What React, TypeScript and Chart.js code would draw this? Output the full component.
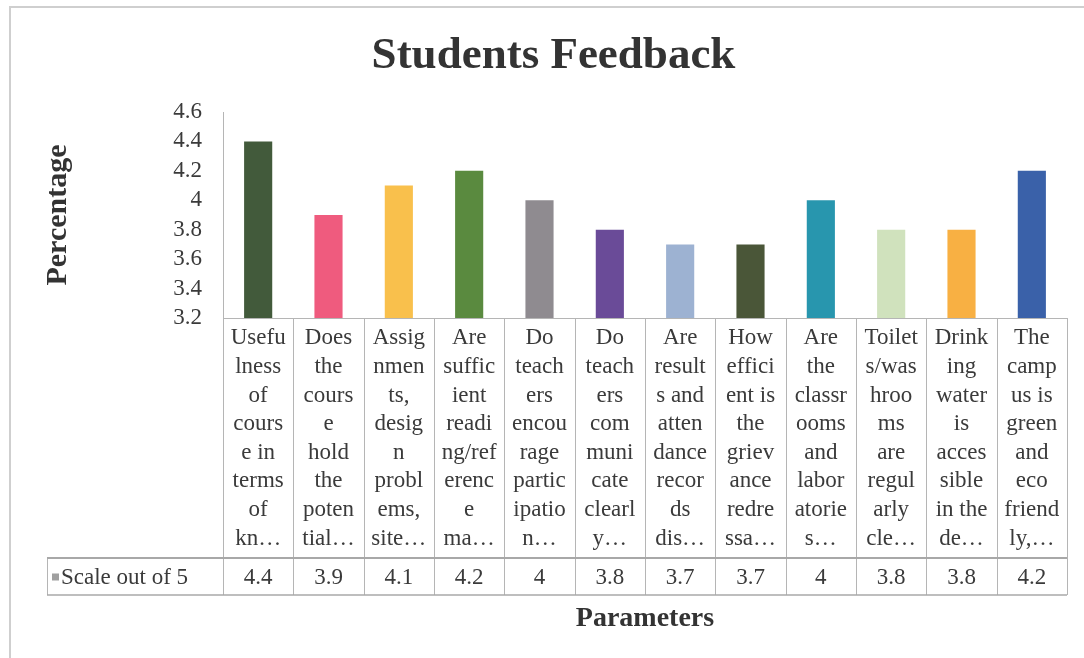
import React, { useEffect, useRef } from "react";
import { Chart, registerables } from "chart.js";

Chart.register(...registerables);

// ---- data ----
const chartTitle = "Students Feedback";
const yAxisTitle = "Percentage";
const xAxisTitle = "Parameters";
const seriesName = "Scale out of 5";

const categoryLines: string[][] = [
  ["Usefu", "lness", "of", "cours", "e in", "terms", "of", "kn…"],
  ["Does", "the", "cours", "e", "hold", "the", "poten", "tial…"],
  ["Assig", "nmen", "ts,", "desig", "n", "probl", "ems,", "site…"],
  ["Are", "suffic", "ient", "readi", "ng/ref", "erenc", "e", "ma…"],
  ["Do", "teach", "ers", "encou", "rage", "partic", "ipatio", "n…"],
  ["Do", "teach", "ers", "com", "muni", "cate", "clearl", "y…"],
  ["Are", "result", "s and", "atten", "dance", "recor", "ds", "dis…"],
  ["How", "effici", "ent is", "the", "griev", "ance", "redre", "ssa…"],
  ["Are", "the", "classr", "ooms", "and", "labor", "atorie", "s…"],
  ["Toilet", "s/was", "hroo", "ms", "are", "regul", "arly", "cle…"],
  ["Drink", "ing", "water", "is", "acces", "sible", "in the", "de…"],
  ["The", "camp", "us is", "green", "and", "eco", "friend", "ly,…"],
];

const scaleValues: number[] = [4.4, 3.9, 4.1, 4.2, 4, 3.8, 3.7, 3.7, 4, 3.8, 3.8, 4.2];
const valueLabels: string[] = ["4.4", "3.9", "4.1", "4.2", "4", "3.8", "3.7", "3.7", "4", "3.8", "3.8", "4.2"];

const barColors: string[] = [
  "#425a3b", "#ef5b7e", "#f9c04c", "#5a8a3f", "#8f8b90", "#6a4b98",
  "#9db2d2", "#4a5638", "#2896ae", "#d0e2bd", "#f8b043", "#3a61a9",
];

const yMin = 3.2;
const yMax = 4.6;
const yStep = 0.2;

// ---- styles ----
const FONT = "'Liberation Serif', 'Times New Roman', serif";
const TEXT = "#3a3a3a";
const LINE = "#b5b5b5";

const framePlugin = {
  id: "frame",
  beforeDraw(chart: any) {
    const { ctx, width, height } = chart;
    ctx.save();
    ctx.fillStyle = "#ffffff";
    ctx.fillRect(0, 0, width, height);
    ctx.strokeStyle = "#cfcfcf";
    ctx.lineWidth = 2;
    ctx.beginPath();
    ctx.moveTo(10, height);
    ctx.lineTo(10, 7);
    ctx.lineTo(width, 7);
    ctx.stroke();
    ctx.restore();
  },
};

const tablePlugin = {
  id: "dataTable",
  afterDraw(chart: any) {
    const { ctx, chartArea } = chart;
    const xs = chart.scales.x;
    const n = scaleValues.length;
    const colW = (chartArea.right - chartArea.left) / n;
    const top = chartArea.bottom;
    const rowTop = top + 240;
    const rowBottom = rowTop + 37;
    const legendLeft = 47;

    ctx.save();
    ctx.strokeStyle = LINE;
    ctx.lineWidth = 1;
    for (let i = 0; i <= n; i++) {
      const x = Math.round(xs.getPixelForValue(Math.min(i, n - 1)) + (i === n ? colW / 2 : -colW / 2)) + 0.5;
      ctx.beginPath();
      ctx.moveTo(x, top);
      ctx.lineTo(x, rowBottom);
      ctx.stroke();
    }
    ctx.beginPath();
    ctx.moveTo(legendLeft + 0.5, rowTop);
    ctx.lineTo(legendLeft + 0.5, rowBottom);
    ctx.stroke();
    ctx.lineWidth = 2;
    ctx.strokeStyle = "#a8a8a8";
    ctx.beginPath();
    ctx.moveTo(legendLeft, rowTop);
    ctx.lineTo(chartArea.right, rowTop);
    ctx.stroke();
    ctx.lineWidth = 1.5;
    ctx.beginPath();
    ctx.moveTo(legendLeft, rowBottom);
    ctx.lineTo(chartArea.right, rowBottom);
    ctx.stroke();

    ctx.fillStyle = TEXT;
    ctx.font = `23px ${FONT}`;
    ctx.textAlign = "center";
    ctx.textBaseline = "middle";
    const cy = (rowTop + rowBottom) / 2 + 1;
    valueLabels.forEach((v, i) => {
      ctx.fillText(v, xs.getPixelForValue(i), cy);
    });

    ctx.fillStyle = "#a0a0a0";
    ctx.fillRect(legendLeft + 5, cy - 4, 7, 7);
    ctx.fillStyle = TEXT;
    ctx.textAlign = "left";
    ctx.fillText(seriesName, legendLeft + 14, cy);
    ctx.restore();
  },
};

export default function App() {
  const ref = useRef<HTMLCanvasElement | null>(null);

  useEffect(() => {
    if (!ref.current) return;
    const chart = new Chart(ref.current, {
      type: "bar",
      data: {
        labels: categoryLines,
        datasets: [
          {
            label: seriesName,
            data: scaleValues,
            backgroundColor: barColors,
            borderWidth: 0,
            barPercentage: 0.4,
            categoryPercentage: 1.0,
          },
        ],
      },
      options: {
        animation: false,
        responsive: false,
        devicePixelRatio: 1,
        layout: { padding: { left: 40, right: 17, top: 0, bottom: 0 } },
        plugins: {
          legend: { display: false },
          tooltip: { enabled: false },
          title: {
            display: true,
            text: chartTitle,
            color: "#333333",
            font: { family: FONT, size: 45, weight: "bold", lineHeight: 1.2 },
            padding: { top: 29, bottom: 29 },
          },
        },
        scales: {
          x: {
            offset: true,
            grid: { display: false, drawTicks: false },
            border: { display: true, color: LINE, width: 1 },
            ticks: {
              color: TEXT,
              font: { family: FONT, size: 23, lineHeight: "28.6px" as any },
              padding: 6,
              maxRotation: 0,
              minRotation: 0,
              autoSkip: false,
            },
            title: {
              display: true,
              text: xAxisTitle,
              color: "#333333",
              font: { family: FONT, size: 28, weight: "bold", lineHeight: 1.2 },
              padding: { top: 10, bottom: 22 },
            },
            afterFit(scale: any) {
              scale.height = 340;
            },
          },
          y: {
            min: yMin,
            max: yMax,
            grid: { display: false, drawTicks: false },
            border: { display: true, color: LINE, width: 1 },
            ticks: {
              stepSize: yStep,
              autoSkip: false,
              color: TEXT,
              font: { family: FONT, size: 23 },
              padding: 21,
              callback: (v: any) => String(Number(Number(v).toFixed(1))),
            },
            title: {
              display: true,
              text: yAxisTitle,
              color: "#333333",
              font: { family: FONT, size: 30, weight: "bold", lineHeight: 1.2 },
              padding: { top: 0, bottom: 0 },
            },
            afterFit(scale: any) {
              scale.width = 183;
            },
          },
        },
      },
      plugins: [framePlugin, tablePlugin],
    });
    return () => chart.destroy();
  }, []);

  return (
    <div style={{ position: "absolute", left: 0, top: 0, width: 1084, height: 658, background: "#fff" }}>
      <canvas ref={ref} width={1084} height={658} style={{ display: "block" }} />
    </div>
  );
}
